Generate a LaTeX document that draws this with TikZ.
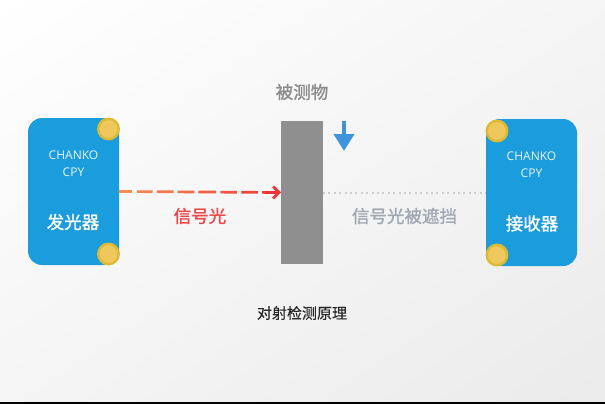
\documentclass[tikz,border=0pt]{standalone}
\usepackage{fontspec}
\setmainfont{Open Sans}
\newfontfamily\cjk[FakeBold=0.3]{Noto Sans CJK SC}
\newfontfamily\cjkmed[FakeBold=1.4]{Noto Sans CJK SC}
\usepackage{xcolor}
\usetikzlibrary{positioning, calc, arrows.meta, shadings}
\definecolor{boxblue}{RGB}{27, 156, 220}
\definecolor{pinfill}{RGB}{238, 200, 92}
\definecolor{pinring}{RGB}{222, 186, 50}
\definecolor{blockgray}{RGB}{143, 143, 143}
\definecolor{arrowblue}{RGB}{64, 148, 220}
\definecolor{sigred}{RGB}{240, 52, 56}
\definecolor{sigorange}{RGB}{247, 142, 84}
\definecolor{mutedgray}{RGB}{160, 168, 178}
\tikzset{
    device/.style={fill=boxblue, rounded corners=14pt, minimum width=91pt, minimum height=147pt, inner sep=0pt, outer sep=0pt},
    pin/.style={circle, fill=pinfill, draw=pinring, line width=2.4pt, minimum size=20.5pt, inner sep=0pt},
    brand/.style={text=white!90!boxblue, font=\fontsize{12}{17}\selectfont, align=center, inner sep=0pt},
    devname/.style={text=white, font=\cjkmed\fontsize{17.5}{20}\selectfont, inner sep=0pt},
    caption/.style={font=\cjkmed\fontsize{17.5}{20}\selectfont, inner sep=0pt},
    sigdash/.style={line width=2.7pt},
}

\begin{document}
\begin{tikzpicture}[x=1pt, y=-1pt]
    \useasboundingbox (0,0) rectangle (605,404);
    \shade[upper left=white, upper right=black!4, lower left=black!4, lower right=black!8] (0,0) rectangle (605,404);
    \fill[black] (0,402.4) rectangle (605,404);

    % sender
    \node[device] (sender) at (73.5,191.5) {};
    \node[pin] (senderTop) at (108.5,129) {};
    \node[pin] (senderBottom) at (108.5,254) {};
    \node[brand] (senderBrand) at (73.5,163.5) {CHANKO\\CPY};
    \node[devname] (senderName) at (73,222) {发光器};

    % receiver
    \node[device] (receiver) at (531.5,192.5) {};
    \node[pin] (receiverTop) at (497,131) {};
    \node[pin] (receiverBottom) at (497,255) {};
    \node[brand] (receiverBrand) at (531.5,165) {CHANKO\\CPY};
    \node[devname] (receiverName) at (532,223.5) {接收器};

    % object under test
    \node[fill=blockgray, minimum width=42pt, minimum height=143pt, inner sep=0pt, outer sep=0pt] (block) at (302,192.5) {};
    \node[caption, text=black!45] (blockLabel) at (302,92) {被测物};
    \coordinate (moveStart) at (344,121);
    \coordinate (moveEnd) at (344,151);
    \draw[arrowblue, line width=4pt, -{Triangle[width=20pt, length=17pt]}] (moveStart) -- (moveEnd);

    % signal light
    \foreach \a/\b/\mix in {0/0.08/100, 0.11/0.208/88, 0.233/0.337/76, 0.362/0.466/62, 0.49/0.6/48, 0.626/0.727/34, 0.755/0.858/18} {
        \draw[sigdash, color=sigorange!\mix!sigred] ($(sender.east)!\a!(block.west)$) -- ($(sender.east)!\b!(block.west)$);
    }
    \draw[sigdash, sigred, -{Straight Barb[length=6pt, width=12pt]}] ($(sender.east)!0.883!(block.west)$) -- (block.west);
    \node[caption, text=sigred!90!white] (signalLabel) at (200,216) {信号光};

    % blocked signal
    \draw[mutedgray!55, line width=2pt, dash pattern=on 2pt off 3.4pt] (block.east) -- (receiver.west);
    \node[caption, text=mutedgray] (blockedLabel) at (404.5,216) {信号光被遮挡};

    \node[font=\cjk\fontsize{15}{18}\selectfont, text=black!85, inner sep=0pt] (title) at (302,313) {对射检测原理};
\end{tikzpicture}
\end{document}
